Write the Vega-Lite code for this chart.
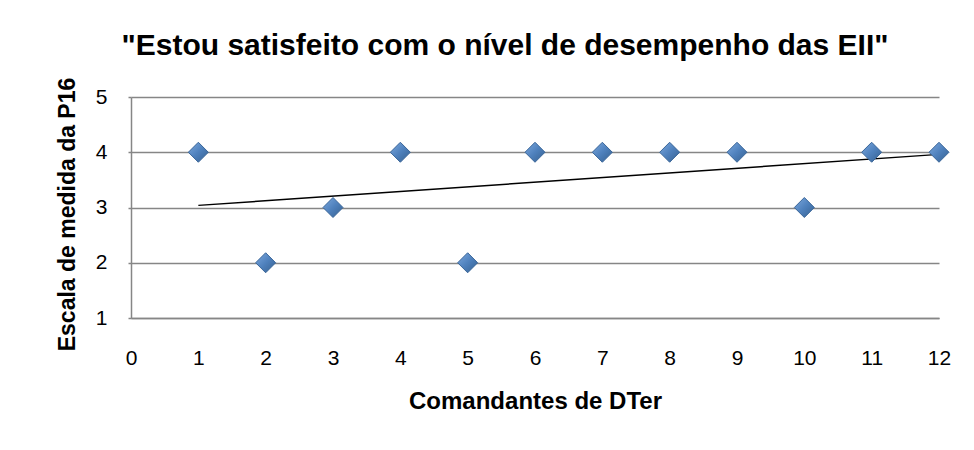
{
  "$schema": "https://vega.github.io/schema/vega-lite/v6.json",
  "autosize": {"type": "none"},
  "width": 808,
  "height": 221,
  "padding": {"left": 131, "top": 97, "right": 35, "bottom": 132},
  "background": "white",
  "title": {
    "text": "\"Estou satisfeito com o nível de desempenho das EII\"",
    "font": "Liberation Sans",
    "fontSize": 30,
    "fontWeight": "bold",
    "color": "#000000",
    "anchor": "middle",
    "offset": 16,
    "dx": -30
  },
  "data": {
    "values": [
      {"comandante": 1, "escala": 4},
      {"comandante": 2, "escala": 2},
      {"comandante": 3, "escala": 3},
      {"comandante": 4, "escala": 4},
      {"comandante": 5, "escala": 2},
      {"comandante": 6, "escala": 4},
      {"comandante": 7, "escala": 4},
      {"comandante": 8, "escala": 4},
      {"comandante": 9, "escala": 4},
      {"comandante": 10, "escala": 3},
      {"comandante": 11, "escala": 4},
      {"comandante": 12, "escala": 4}
    ]
  },
  "config": {
    "view": {"stroke": null},
    "axis": {
      "labelFont": "Liberation Sans",
      "titleFont": "Liberation Sans",
      "labelColor": "#000000",
      "titleColor": "#000000",
      "domainColor": "#868686",
      "domainWidth": 1.5,
      "gridColor": "#868686",
      "gridWidth": 1.5,
      "gridOpacity": 1
    }
  },
  "encoding": {
    "x": {
      "field": "comandante",
      "type": "quantitative",
      "scale": {"domain": [0, 12], "nice": false, "zero": false},
      "axis": {
        "title": "Comandantes de DTer",
        "values": [0,1,2,3,4,5,6,7,8,9,10,11,12],
        "format": "d",
        "grid": false,
        "ticks": false,
        "labelFontSize": 21,
        "labelPadding": 29,
        "labelFlush": false,
        "labelOverlap": false,
        "titleFontSize": 24,
        "titleFontWeight": "bold",
        "titlePadding": 21
      }
    },
    "y": {
      "field": "escala",
      "type": "quantitative",
      "scale": {"domain": [1, 5], "nice": false, "zero": false},
      "axis": {
        "title": "Escala de medida da P16",
        "values": [1,2,3,4,5],
        "format": "d",
        "grid": true,
        "ticks": true,
        "tickSize": 3,
        "tickColor": "#868686",
        "tickWidth": 1.5,
        "labelFontSize": 21,
        "labelPadding": 21,
        "labelFlush": false,
        "titleFontSize": 23,
        "titleFontWeight": "bold",
        "titlePadding": 16,
        "titleY": 117
      }
    }
  },
  "layer": [
    {
      "mark": {"type": "line", "color": "#000000", "strokeWidth": 1.5},
      "transform": [{"regression": "escala", "on": "comandante", "method": "linear"}],
      "encoding": {}
    },
    {
      "mark": {
        "type": "point",
        "shape": "diamond",
        "filled": true,
        "size": 400,
        "color": {
          "gradient": "linear",
          "x1": 0, "y1": 0, "x2": 1, "y2": 1,
          "stops": [
            {"offset": 0, "color": "#7DA9DE"},
            {"offset": 0.5, "color": "#4F81BD"},
            {"offset": 1, "color": "#35608F"}
          ]
        },
        "stroke": "#3A6699",
        "strokeWidth": 1,
        "opacity": 1
      },
      "encoding": {}
    }
  ]
}
